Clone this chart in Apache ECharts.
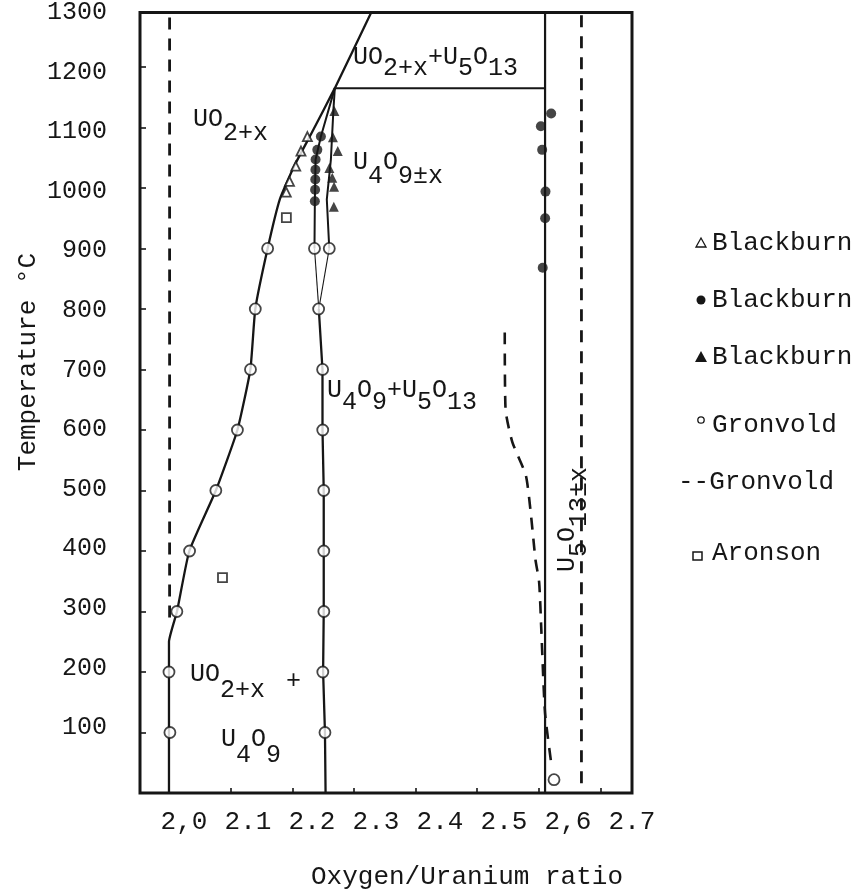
<!DOCTYPE html>
<html>
<head>
<meta charset="utf-8">
<script src="https://cdn.jsdelivr.net/npm/echarts@6/dist/echarts.min.js"></script>
<style>
html, body { margin: 0; padding: 0; background: #fff; }
#chart { width: 863px; height: 895px; }
</style>
</head>
<body>
<div id="chart"></div>
<script>
// ---- Axis ticks and their typed labels ----
const xTickValues = [2.0, 2.1, 2.2, 2.3, 2.4, 2.5, 2.6, 2.7];
const xTickLabels = ['2,0', '2.1', '2.2', '2.3', '2.4', '2.5', '2,6', '2.7'];
const yTickValues = [100, 200, 300, 400, 500, 600, 700, 800, 900, 1000, 1100, 1200, 1300];
const yTickLabels = ['100', '200', '300', '400', '500', '600', '700', '800', '900', '1000', '1100', '1200', '1300'];

// ---- Phase boundaries: [O/U ratio, temperature °C] ----
const uo2Boundary = [[2.0, 0], [2.0, 200], [2.0, 250], [2.013, 300], [2.033, 400], [2.076, 500],
  [2.111, 600], [2.132, 700], [2.140, 800], [2.160, 900], [2.180, 982], [2.203, 1036],
  [2.232, 1092], [2.269, 1165], [2.328, 1290]];
const u4o9Boundary = [[2.254, 0], [2.253, 100], [2.250, 200], [2.251, 300], [2.251, 400],
  [2.251, 500], [2.249, 600], [2.249, 700], [2.243, 800]];
const u4o9LowBranch = [[2.243, 800], [2.236, 900]];
const u4o9HighBranch = [[2.243, 800], [2.260, 900]];
const u4o9LowUpper = [[2.236, 900], [2.2366, 978], [2.2375, 1030], [2.2378, 1047], [2.2464, 1085], [2.269, 1165]];
const u4o9HighUpper = [[2.260, 900], [2.256, 981], [2.2626, 1047], [2.2667, 1129], [2.269, 1165]];
const u5o13Boundary = [[2.610, 0], [2.610, 1290]];
const eutectoidLine = [[2.269, 1165], [2.610, 1165]];
const gronvoldDashLeft = [[2.001, 290], [2.001, 1290]];
const gronvoldDashRight = [[2.669, 16], [2.669, 1290]];
const gronvoldDashU5O13 = [[2.5446, 761], [2.5459, 634], [2.5569, 580], [2.5788, 525], [2.5874, 457],
  [2.5944, 386], [2.6004, 348], [2.6039, 270], [2.6099, 133], [2.6199, 50]];

// ---- Measured points ----
const gronvoldOpen = [[2.0015, 100], [2.0, 200], [2.0128, 300], [2.0334, 400], [2.076, 500],
  [2.111, 600], [2.1322, 700], [2.140, 800], [2.160, 900],
  [2.253, 100], [2.2495, 200], [2.2512, 300], [2.2511, 400], [2.251, 500], [2.2494, 600],
  [2.2492, 700], [2.2427, 800], [2.236, 900], [2.260, 900], [2.6245, 22]];
const blackburnOpenTri = [[2.2245, 1085], [2.2141, 1061], [2.2056, 1036], [2.1955, 1011], [2.1903, 993]];
const blackburnDots = [[2.2464, 1085], [2.2406, 1063], [2.2378, 1047], [2.2375, 1030], [2.2373, 1014],
  [2.2370, 997], [2.2366, 978],
  [2.6199, 1123], [2.6032, 1102], [2.6053, 1063], [2.6107, 994], [2.6101, 950], [2.6062, 868]];
const blackburnFilledTri = [[2.2683, 1127], [2.2659, 1084], [2.2737, 1061], [2.2602, 1033],
  [2.2648, 1017], [2.2678, 1002], [2.2674, 969]];
const aronsonSquares = [[2.1904, 951], [2.0868, 356]];

const FONT = 'Liberation Mono';
const INK = '#161616';
const FS = 25;

function boundary(data, width, dashed, smooth) {
  return {
    type: 'line', data: data, symbol: 'none', silent: true, smooth: smooth || false,
    xAxisIndex: 0, yAxisIndex: 0, z: 3, animation: false,
    lineStyle: { color: INK, width: width, type: dashed ? [12, 9] : 'solid', cap: 'butt' }
  };
}
function points(data, symbol, size, filled) {
  return {
    type: 'scatter', data: data, symbol: symbol, symbolSize: size, silent: true,
    xAxisIndex: 0, yAxisIndex: 0, z: 5, animation: false,
    itemStyle: { color: filled ? INK : '#fff', borderColor: INK, borderWidth: filled ? 0 : 1.8 }
  };
}

// Phase-field names with typewriter half-line subscripts
function phaseText(x, y, parts, shift, extra) {
  const rich = {
    n: { fontSize: FS, fontFamily: FONT, fill: INK, padding: [0, 0, shift, 0] },
    s: { fontSize: FS, fontFamily: FONT, fill: INK, padding: [shift, 0, 0, 0] }
  };
  const text = parts.map(p => '{' + p[0] + '|' + p[1] + '}').join('');
  return Object.assign({
    type: 'text', x: x, y: y, silent: true, z: 10,
    style: { text: text, rich: rich, fontSize: FS, fontFamily: FONT, fill: INK, textAlign: 'left', textVerticalAlign: 'top' }
  }, extra || {});
}
function plainText(x, y, text, align, size, extra) {
  return Object.assign({
    type: 'text', x: x, y: y, silent: true, z: 10,
    style: { text: text, fontSize: size || FS, fontFamily: FONT, fill: INK, textAlign: align || 'left', textVerticalAlign: 'middle' }
  }, extra || {});
}

// Legend rows (symbol + source name)
const legendRows = [243, 300, 357, 425, 482, 553];
const legendX = 712;
const LFS = 26;
const legendGraphics = [
  { type: 'polygon', shape: { points: [[696, legendRows[0] + 4], [706, legendRows[0] + 4], [701, legendRows[0] - 5]] },
    style: { fill: '#fff', stroke: INK, lineWidth: 1.3 } },
  plainText(legendX, legendRows[0], 'Blackburn', 'left', LFS),
  { type: 'circle', shape: { cx: 701, cy: legendRows[1], r: 4.5 }, style: { fill: INK } },
  plainText(legendX, legendRows[1], 'Blackburn', 'left', LFS),
  { type: 'polygon', shape: { points: [[695, legendRows[2] + 5], [707, legendRows[2] + 5], [701, legendRows[2] - 6]] },
    style: { fill: INK } },
  plainText(legendX, legendRows[2], 'Blackburn', 'left', LFS),
  { type: 'circle', shape: { cx: 701, cy: legendRows[3] - 5, r: 3.2 }, style: { fill: '#fff', stroke: INK, lineWidth: 1.3 } },
  plainText(legendX, legendRows[3], 'Gronvold', 'left', LFS),
  plainText(678, legendRows[4], '--Gronvold', 'left', LFS),
  { type: 'rect', shape: { x: 693, y: legendRows[5] - 1, width: 9, height: 8 }, style: { fill: '#fff', stroke: INK, lineWidth: 1.5 } },
  plainText(legendX, legendRows[5], 'Aronson', 'left', LFS)
];

const option = {
  backgroundColor: '#fff',
  animation: false,
  grid: { left: 140, top: 11.5, width: 492, height: 781.5, show: true, borderColor: INK, borderWidth: 3, backgroundColor: 'transparent' },
  xAxis: [
    { type: 'value', min: 1.953, max: 2.751, position: 'bottom',
      axisLine: { show: false }, splitLine: { show: false }, axisLabel: { show: false },
      axisTick: { show: true, inside: true, length: 5, customValues: xTickValues.slice(1), lineStyle: { color: INK, width: 1.6 } } },
    // typed tick-label row
    { type: 'value', min: 1.93125, max: 2.7, position: 'bottom', offset: 0,
      axisLine: { show: false }, splitLine: { show: false }, axisTick: { show: false },
      axisLabel: { show: true, margin: 16, customValues: xTickValues, fontFamily: FONT, fontSize: 26, color: INK,
        formatter: v => xTickLabels[Math.round((v - 2.0) * 10)] } }
  ],
  yAxis: [
    { type: 'value', min: 0, max: 1290, position: 'left',
      axisLine: { show: false }, splitLine: { show: false }, axisLabel: { show: false },
      axisTick: { show: true, inside: true, length: 6, customValues: yTickValues.slice(0, 12), lineStyle: { color: INK, width: 1.6 } } },
    // typed tick-label column
    { type: 'value', min: -10, max: 1300, position: 'left', offset: 0,
      axisLine: { show: false }, splitLine: { show: false }, axisTick: { show: false },
      axisLabel: { show: true, margin: 33, customValues: yTickValues, fontFamily: FONT, fontSize: FS, color: INK,
        formatter: v => yTickLabels[Math.round(v / 100) - 1] } }
  ],
  series: [
    boundary(uo2Boundary, 2.3, false, 0.15),
    boundary(u4o9Boundary, 2.3, false),
    boundary(u4o9LowBranch, 1.1, false),
    boundary(u4o9HighBranch, 1.1, false),
    boundary(u4o9LowUpper, 2, false),
    boundary(u4o9HighUpper, 2, false),
    boundary(u5o13Boundary, 2.2, false),
    boundary(eutectoidLine, 2, false),
    boundary(gronvoldDashLeft, 2.8, true),
    boundary(gronvoldDashRight, 2.8, true),
    boundary(gronvoldDashU5O13, 2.6, true, 0.2),
    points(gronvoldOpen, 'circle', 11, false),
    points(blackburnOpenTri, 'triangle', 9, false),
    points(blackburnDots, 'circle', 10, true),
    points(blackburnFilledTri, 'triangle', 10, true),
    points(aronsonSquares, 'rect', 9, false)
  ],
  graphic: [
    phaseText(193, 107, [['n', 'UO'], ['s', '2+x']], 14),
    phaseText(353, 45, [['n', 'UO'], ['s', '2+x'], ['n', '+U'], ['s', '5'], ['n', 'O'], ['s', '13']], 11),
    phaseText(353, 150, [['n', 'U'], ['s', '4'], ['n', 'O'], ['s', '9±x']], 14),
    phaseText(327, 378, [['n', 'U'], ['s', '4'], ['n', 'O'], ['s', '9'], ['n', '+U'], ['s', '5'], ['n', 'O'], ['s', '13']], 12),
    phaseText(190, 662, [['n', 'UO'], ['s', '2+x']], 16),
    plainText(286, 681, '+'),
    phaseText(221, 727, [['n', 'U'], ['s', '4'], ['n', 'O'], ['s', '9']], 16),
    phaseText(555, 572, [['n', 'U'], ['s', '5'], ['n', 'O'], ['s', '13±x']], 12, { rotation: Math.PI / 2 }),
    plainText(467, 877, 'Oxygen/Uranium ratio', 'center', 26),
    plainText(28, 362, 'Temperature °C', 'center', 26, { rotation: Math.PI / 2 })
  ].concat(legendGraphics)
};

const chart = echarts.init(document.getElementById('chart'), null, { renderer: 'canvas' });
chart.setOption(option);
</script>
</body>
</html>
